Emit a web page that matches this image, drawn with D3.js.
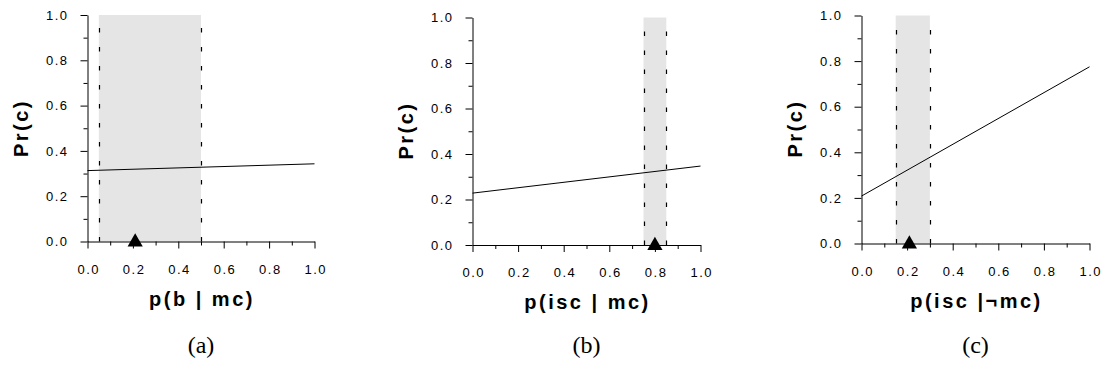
<!DOCTYPE html>
<html>
<head>
<meta charset="utf-8">
<script src="https://cdn.jsdelivr.net/npm/d3@7"></script>
<style>
  body { margin: 0; background: #fff; }
  .tick text { font-family: "Liberation Sans", Arial, sans-serif; font-size: 13px; letter-spacing: 1.5px; fill: #000; }
  .title { font-family: "Liberation Sans", Arial, sans-serif; font-weight: bold; font-size: 20px; letter-spacing: 2.5px; fill: #000; }
  .caption { font-family: "Liberation Serif", "Times New Roman", serif; font-size: 24px; fill: #000; }
</style>
</head>
<body>
<script>

// chart data
var panelNames = ["(a)", "(b)", "(c)"];
var xTitles = ["p(b | mc)", "p(isc | mc)", "p(isc |\u00acmc)"];
var bandLow = [0.05, 0.75, 0.15];
var bandHigh = [0.50, 0.85, 0.30];
var markerX = [0.21, 0.80, 0.21];
var lineAt0 = [0.313, 0.228, 0.208];
var lineAt1 = [0.343, 0.347, 0.775];
var majorTicks = [0, 0.2, 0.4, 0.6, 0.8, 1.0];
var minorTicks = [0.1, 0.3, 0.5, 0.7, 0.9];

// page size
var width = 1101;
var height = 377;

// where each plot sits (left, right, top, bottom of the axes box)
var frames = [
  [87.5, 314.5, 15, 241.5],
  [472.5, 700.5, 17.5, 245],
  [861.5, 1089.5, 15.5, 243.5]
];

var svg = d3.select("body")
            .append("svg")
            .attr("width", width)
            .attr("height", height);

var fmt = d3.format(".1f");

panelNames.forEach(function(name, i) {
  var f = frames[i];

  var x = d3.scaleLinear().domain([0, 1]).range([f[0], f[1]]);
  var y = d3.scaleLinear().domain([0, 1]).range([f[3], f[2]]);

  var g = svg.append("g");

  // shaded band
  g.append("rect")
   .attr("x", x(bandLow[i]))
   .attr("y", y(1))
   .attr("width", x(bandHigh[i]) - x(bandLow[i]))
   .attr("height", y(0) - y(1))
   .style("fill", "#e5e5e5");

  // dashed edges of the band, dashes counted up from the axis
  g.selectAll("line.edge")
   .data([bandLow[i], bandHigh[i]])
   .enter()
   .append("line")
   .attr("class", "edge")
   .attr("x1", function(d) { return Math.round(x(d)) + 0.5; })
   .attr("x2", function(d) { return Math.round(x(d)) + 0.5; })
   .attr("y1", y(0))
   .attr("y2", y(1))
   .style("stroke", "#000")
   .style("stroke-width", 1.2)
   .style("stroke-dasharray", "4.5,14.5");

  // minor ticks
  g.append("g")
   .attr("transform", "translate(0," + y(0) + ")")
   .call(d3.axisBottom(x).tickValues(minorTicks).tickSize(4).tickFormat(""))
   .call(function(a) { a.select(".domain").remove(); });

  g.append("g")
   .attr("transform", "translate(" + x(0) + ",0)")
   .call(d3.axisLeft(y).tickValues(minorTicks).tickSize(4).tickFormat(""))
   .call(function(a) { a.select(".domain").remove(); });

  // major ticks with labels
  g.append("g")
   .attr("transform", "translate(0," + y(0) + ")")
   .call(d3.axisBottom(x).tickValues(majorTicks).tickSize(7).tickSizeOuter(0).tickPadding(16).tickFormat(fmt))
   .call(function(a) { a.selectAll("text").attr("dx", "0.75"); });

  g.append("g")
   .attr("transform", "translate(" + x(0) + ",0)")
   .call(d3.axisLeft(y).tickValues(majorTicks).tickSize(7).tickSizeOuter(0).tickPadding(12).tickFormat(fmt));

  // the line
  g.append("path")
   .datum([[0, lineAt0[i]], [1, lineAt1[i]]])
   .attr("d", d3.line().x(function(d) { return x(d[0]); }).y(function(d) { return y(d[1]); }))
   .style("fill", "none")
   .style("stroke", "#000")
   .style("stroke-width", 1);

  // triangle marker on the x axis
  g.append("path")
   .attr("d", d3.symbol().type(d3.symbolTriangle).size(100))
   .attr("transform", "translate(" + x(markerX[i]) + "," + (y(0) + 0.5) + ")")
   .style("fill", "#000");

  // axis titles
  g.append("text")
   .attr("class", "title")
   .attr("x", (f[0] + f[1]) / 2 + 1)
   .attr("y", f[3] + 64)
   .attr("text-anchor", "middle")
   .text(xTitles[i]);

  g.append("text")
   .attr("class", "title")
   .attr("transform", "translate(" + (f[0] - 60) + "," + (f[2] + 113) + ") rotate(-90)")
   .attr("text-anchor", "middle")
   .text("Pr(c)");

  // panel caption
  svg.append("text")
     .attr("class", "caption")
     .attr("x", (f[0] + f[1]) / 2)
     .attr("y", 353)
     .attr("text-anchor", "middle")
     .text(name);
});

</script>
</body>
</html>
